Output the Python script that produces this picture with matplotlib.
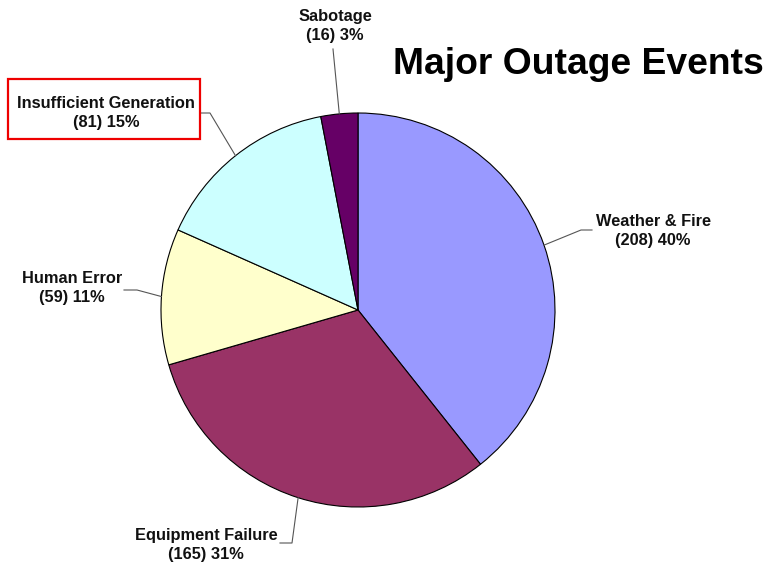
import numpy as np
import matplotlib.pyplot as plt
from matplotlib.patches import Rectangle

plt.rcParams['font.family'] = ['Liberation Sans', 'DejaVu Sans']

# Data
causes = ['Weather & Fire', 'Equipment Failure', 'Human Error',
          'Insufficient Generation', 'Sabotage']
counts = [208, 165, 59, 81, 16]
percents = [40, 31, 11, 15, 3]
colors = ['#9999FF', '#993366', '#FFFFCC', '#CCFFFF', '#660066']

# Layout in pixel units (y measured from top of the picture)
W, H = 767, 567
center = (358, 310)
radius = 197
label_xy = [(653, 231), (206, 545), (72, 288), (106, 113), (335, 26)]
elbows = [[(592, 230), (581, 230)],
          [(280, 543), (292, 543)],
          [(124, 290), (137, 290)],
          [(200, 113), (210, 113)],
          [(333, 49)]]

fig = plt.figure(figsize=(W / 100, H / 100), dpi=100)
ax = fig.add_axes([0, 0, 1, 1])

wedges, _ = ax.pie(counts, colors=colors, startangle=90, counterclock=False,
                   center=(center[0], H - center[1]), radius=radius,
                   wedgeprops=dict(edgecolor='black', linewidth=0.8))

ax.set_xlim(0, W)
ax.set_ylim(0, H)
ax.set_aspect('auto')
ax.axis('off')

for i, w in enumerate(wedges):
    # leader line: text side elbow -> wedge mid-angle on the rim
    mid = np.deg2rad((w.theta1 + w.theta2) / 2)
    ex = center[0] + radius * np.cos(mid)
    ey = (H - center[1]) + radius * np.sin(mid)
    xs = [p[0] for p in elbows[i]] + [ex]
    ys = [H - p[1] for p in elbows[i]] + [ey]
    ax.plot(xs, ys, color='#555555', lw=0.8, zorder=1)

    lx, ly = label_xy[i]
    ax.text(lx, H - ly, f'{causes[i]}\n({counts[i]}) {percents[i]}%',
            ha='center', va='center', fontsize=11.8, fontweight='bold',
            linespacing=1.3, color='#111111')

# red box around Insufficient Generation
ax.add_patch(Rectangle((8, H - 139), 192, 60, fill=False,
                       edgecolor='#EE0000', lw=1.6, zorder=3))

ax.text(578, H - 65, 'Major Outage Events', ha='center', va='center',
        fontsize=26.8, fontweight='bold', color='black')

fig.savefig('out.png', dpi=100)
